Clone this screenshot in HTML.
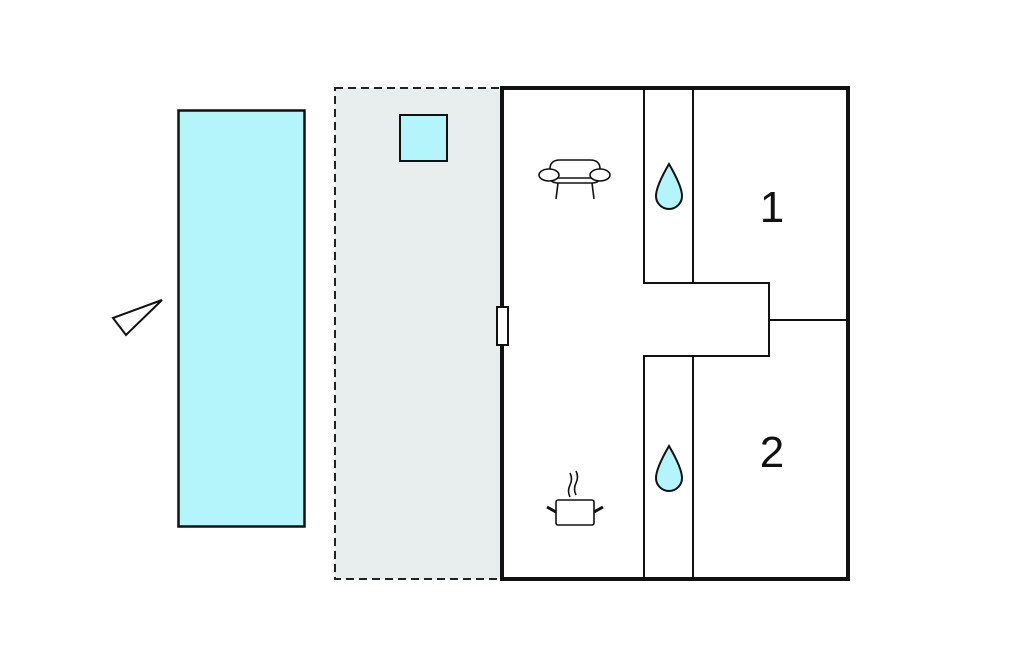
<!DOCTYPE html>
<html><head><style>html,body{margin:0;padding:0;background:#fff;}</style></head><body>
<svg width="1024" height="652" viewBox="0 0 1024 652" xmlns="http://www.w3.org/2000/svg">
<rect x="335" y="88" width="167" height="491" fill="#e8eeee" stroke="#222" stroke-width="2" stroke-dasharray="8,5"/>
<rect x="400" y="115" width="47" height="46" fill="#b3f5fb" stroke="#111" stroke-width="2"/>
<rect x="178.5" y="110.5" width="126" height="416" fill="#b3f5fb" stroke="#111" stroke-width="2.5"/>
<polygon points="113,318 162,300 126,335" fill="#fff" stroke="#111" stroke-width="2"/>
<rect x="502" y="88" width="346" height="491" fill="#fff" stroke="#111" stroke-width="4"/>
<g fill="none" stroke="#111" stroke-width="2">
<path d="M644,88 V283 H769 V356 H644 V579"/>
<path d="M693,88 V283"/><path d="M693,356 V579"/>
<path d="M769,320 H848"/>
</g>
<rect x="497" y="307" width="11" height="38" fill="#fff" stroke="#111" stroke-width="2"/>
<g fill="#b3f5fb" stroke="#111" stroke-width="2">
<path d="M669,164 C676,176 682,188 682,196 A13,13 0 0 1 656,196 C656,188 662,176 669,164Z"/>
<path d="M669,446 C676,458 682,470 682,478 A13,13 0 0 1 656,478 C656,470 662,458 669,446Z"/>
</g>
<g fill="#fff" stroke="#111" stroke-width="1.6">
<path d="M550,169 Q550,160 560,160 H590 Q600,160 600,169 V176 Q600,183 592,183 H558 Q550,183 550,176Z"/>
<line x1="556" y1="178" x2="594" y2="178"/>
<ellipse cx="549" cy="175" rx="10" ry="6"/><ellipse cx="600" cy="175" rx="10" ry="6"/>
<line x1="558" y1="183" x2="556" y2="199"/><line x1="592" y1="183" x2="594" y2="199"/>
<rect x="556" y="500" width="38" height="25" rx="2"/>
<path d="M570,497 q-3,-6 0,-12 q3,-6 0,-12 M576,495 q-3,-6 0,-12 q3,-6 0,-12"/>
</g>
<g stroke="#111" stroke-width="3"><line x1="547" y1="507" x2="556" y2="512"/><line x1="603" y1="507" x2="594" y2="512"/></g>
<g font-family="Liberation Sans, sans-serif" font-size="44" fill="#111" text-anchor="middle">
<text x="772" y="222">1</text><text x="772" y="467">2</text>
</g>
</svg>
</body></html>
